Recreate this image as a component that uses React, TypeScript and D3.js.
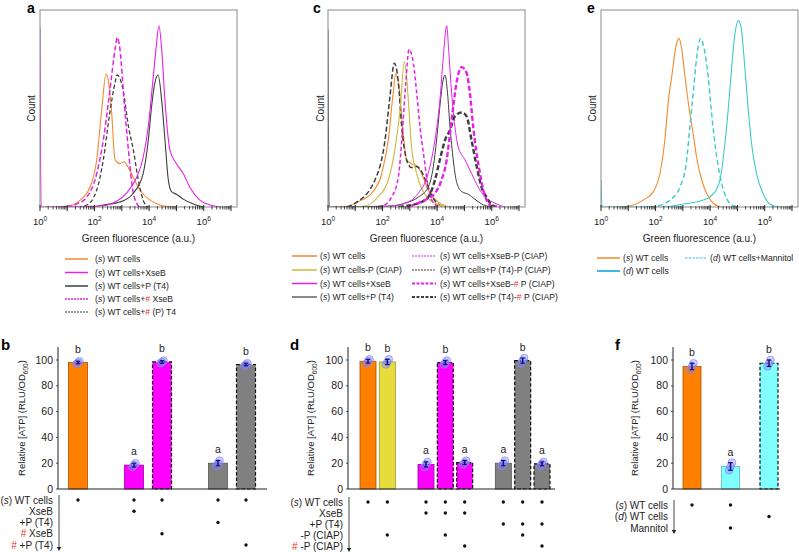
import React from "react";
import * as d3 from "d3";

const FONT = "Liberation Sans, Arial, Helvetica, sans-serif";
const RED = "#e8332a";

type Pt = [number, number];

// ---------- Histogram data: [log10 green fluorescence, count (% of frame)] ----------
const aWT: Pt[] = [[0.6,0],[1.2,1],[1.47,3.5],[1.83,10],[2.08,24],[2.26,49],[2.42,67.5],[2.5,64.5],[2.62,49],[2.75,24],[2.93,22],[3.08,23],[3.24,20],[3.42,15],[3.66,8.6],[4.03,3.5],[4.4,1],[4.8,0]];
const aXseB: Pt[] = [[0,91],[0.04,0],[2.2,0.5],[2.68,2],[3.17,7],[3.54,15],[3.78,25],[3.97,41],[4.13,63],[4.25,80],[4.36,92],[4.46,80],[4.58,54],[4.76,29],[5.0,22],[5.25,17],[5.49,10],[5.86,3.5],[6.23,1],[6.6,0]];
const aT4: Pt[] = [[2.0,0],[2.32,1],[2.93,2.5],[3.42,7],[3.78,17],[3.97,34],[4.09,51],[4.21,63],[4.33,67],[4.46,54],[4.58,34],[4.7,14],[4.82,7.8],[5.0,6.5],[5.25,4],[5.62,1.5],[6.0,0]];
const aHashXseB: Pt[] = [[1.0,0],[1.34,1.5],[1.71,5],[2.08,17],[2.32,34],[2.56,59],[2.75,80],[2.83,86],[2.93,80],[3.08,54],[3.24,29],[3.42,7],[3.54,2],[3.66,0]];
const aHashT4: Pt[] = [[1.4,0],[1.71,1],[2.08,8.6],[2.32,24],[2.56,48],[2.75,63],[2.83,67],[3.05,59],[3.24,41],[3.42,29],[3.6,14],[3.78,3.5],[3.96,0]];

const cWT: Pt[] = [[0.5,0],[0.74,0.5],[1.23,3.5],[1.6,7],[1.97,17],[2.21,34],[2.39,58],[2.48,67.5],[2.6,61],[2.76,37],[2.88,24],[3.06,22],[3.25,21],[3.43,17],[3.67,8.6],[4.04,2.5],[4.5,0]];
const cCIAP: Pt[] = [[1.0,0],[1.36,0.5],[1.84,5.2],[2.21,13.7],[2.45,29],[2.64,49],[2.8,74],[2.88,66],[2.97,49],[3.06,30.6],[3.25,17],[3.43,9.5],[3.67,4.4],[4.04,1.2],[4.4,0]];
const cXseB: Pt[] = [[2.0,0],[2.33,0.5],[2.82,1.9],[3.31,7],[3.67,17],[3.92,34],[4.1,54],[4.22,75],[4.35,92],[4.43,78],[4.53,58],[4.65,41],[4.77,30.6],[5.02,24],[5.26,17],[5.51,10],[5.75,5.2],[6.12,1.9],[6.48,0]];
const cT4: Pt[] = [[0,90],[0.04,0],[2.33,0.5],[2.82,1.9],[3.31,5],[3.67,10],[3.86,20.5],[3.98,34],[4.1,51],[4.22,64.5],[4.29,67],[4.38,58],[4.47,41],[4.59,24],[4.71,12.9],[4.9,7.8],[5.14,6.5],[5.38,4],[5.63,1.5],[6.0,0]];
const cXseBCIAP: Pt[] = [[1.6,0],[1.97,0.5],[2.33,5],[2.58,15.4],[2.72,37],[2.85,63],[2.97,80],[3.13,73],[3.25,58],[3.37,41],[3.53,24],[3.67,10],[3.86,2.2],[4.1,0]];
const cT4CIAP: Pt[] = [[0.7,0],[0.99,1.9],[1.72,13.7],[2.09,34],[2.27,56],[2.43,73],[2.58,63],[2.7,41],[2.88,24],[3.06,20],[3.25,20.5],[3.43,18],[3.62,12],[3.86,4.4],[4.16,0.5],[4.4,0]];
const cXseBHash: Pt[] = [[3.0,0],[3.06,0.5],[3.55,3.5],[3.92,7],[4.16,13.7],[4.35,24],[4.47,37],[4.59,51],[4.71,63],[4.9,71],[5.08,68],[5.2,58],[5.32,41],[5.45,27],[5.57,17],[5.69,8.6],[5.81,3.5],[6.0,0.5],[6.2,0]];
const cT4Hash: Pt[] = [[2.6,0],[2.82,0.5],[3.31,1.9],[3.67,5],[3.92,13.7],[4.1,24],[4.29,34],[4.47,39],[4.65,46],[4.9,48],[5.08,46],[5.26,34],[5.45,20.5],[5.63,10],[5.81,5],[6.0,1],[6.2,0]];

const eWT: Pt[] = [[0.8,0],[1.06,0.5],[1.55,3.5],[1.92,7.8],[2.16,17],[2.34,34],[2.47,54],[2.59,66],[2.77,83],[2.86,85.6],[2.96,80],[3.08,66],[3.24,49],[3.38,37],[3.5,25.5],[3.69,13.7],[3.87,7],[4.11,1.9],[4.4,0]];
const eD: Pt[] = [[0,13.7],[0.04,0],[2.28,0],[3.02,1.5],[3.75,3.5],[4.11,6.5],[4.36,13.7],[4.54,32],[4.66,49],[4.79,71],[4.91,88],[5.03,94.6],[5.13,91.5],[5.27,71],[5.4,49],[5.52,32],[5.7,17],[5.95,6.5],[6.19,1.5],[6.5,0]];
const eMannitol: Pt[] = [[1.8,0],[2.04,0.5],[2.53,3.5],[2.89,10],[3.14,24],[3.26,41],[3.38,58],[3.5,75],[3.65,85.6],[3.77,81],[3.93,66],[4.05,48],[4.24,25.5],[4.42,12],[4.6,4.4],[4.79,1.2],[5.0,0]];

const X_MAX_EXP = 7.22;
const xTickExps = [0, 2, 4, 6];

// ---------- Legends ----------
const aLegend = ["(s) WT cells", "(s) WT cells+XseB", "(s) WT cells+P (T4)", "(s) WT cells+# XseB", "(s) WT cells+# (P) T4"];
const cLegendLeft = ["(s) WT cells", "(s) WT cells-P (CIAP)", "(s) WT cells+XseB", "(s) WT cells+P (T4)"];
const cLegendRight = ["(s) WT cells+XseB-P (CIAP)", "(s) WT cells+P (T4)-P (CIAP)", "(s) WT cells+XseB-# P (CIAP)", "(s) WT cells+P (T4)-# P (CIAP)"];
const eLegend = ["(s) WT cells", "(d) WT cells", "(d) WT cells+Mannitol"];

// ---------- Bar data (replicates, Relative [ATP]) ----------
const bSlots = [0, 2, 3, 5, 6];
const bReps = [[97, 98, 99], [17, 18.5, 20], [97.5, 98.5, 99.5], [18, 20, 22], [95.5, 96.5, 97.5]];
const bLetters = ["b", "a", "b", "a", "b"];
const bMarks = [[0], [0, 1], [0, 3], [0, 2], [0, 4]];
const bRows = ["(s) WT cells", "XseB", "+P (T4)", "# XseB", "# +P (T4)"];

const dSlots = [0, 1, 3, 4, 5, 7, 8, 9];
const dReps = [[97.5, 99, 100.5], [96.5, 98.5, 100.5], [17, 19, 21], [96.5, 98, 99.5], [19, 20.5, 22], [18, 20, 22], [97.5, 99.5, 101.5], [18, 19.5, 21]];
const dLetters = ["b", "b", "a", "b", "a", "a", "b", "a"];
const dMarks = [[0], [0, 3], [0, 1], [0, 1, 3], [0, 1, 4], [0, 2], [0, 2, 3], [0, 2, 4]];
const dRows = ["(s) WT cells", "XseB", "+P (T4)", "-P (CIAP)", "# -P (CIAP)"];

const fSlots = [0, 1, 2];
const fReps = [[92.5, 95, 97.5], [14.5, 17.5, 20.5], [95, 97.5, 100]];
const fLetters = ["b", "a", "b"];
const fMarks = [[0], [0, 2], [1]];
const fRows = ["(s) WT cells", "(d) WT cells", "Mannitol"];

const yTicks = [0, 20, 40, 60, 80, 100];

// ---------- colours ----------
const C_ORANGE = "#f28a2e";
const C_MAG = "#e620e6";
const C_DARK = "#3d3d3d";
const C_YEL = "#c8b93a";
const C_CYAN = "#3ccaca";
const C_CYAN_LEG = "#3fb8e2";

const B_ORANGE = { fill: "#ff7f00", stroke: "#a85400", dashed: false };
const B_YEL = { fill: "#e6dc3c", stroke: "#9e9628", dashed: false };
const B_MAG = { fill: "#ff00ff", stroke: "#a000a0", dashed: false };
const B_MAG_D = { fill: "#ff00ff", stroke: "#111", dashed: true };
const B_GRAY = { fill: "#808080", stroke: "#555", dashed: false };
const B_GRAY_D = { fill: "#808080", stroke: "#111", dashed: true };
const B_CYAN = { fill: "#80ffff", stroke: "#55bbbb", dashed: false };
const B_CYAN_D = { fill: "#80ffff", stroke: "#111", dashed: true };

const bStyles = [B_ORANGE, B_MAG, B_MAG_D, B_GRAY, B_GRAY_D];
const dStyles = [B_ORANGE, B_YEL, B_MAG, B_MAG_D, B_MAG_D, B_GRAY, B_GRAY_D, B_GRAY_D];
const fStyles = [B_ORANGE, B_CYAN, B_CYAN_D];

function Rich({ text }: { text: string }) {
  const parts = text.split(/(\(s\)|\(d\)|#)/).filter((p) => p !== "");
  return (
    <>
      {parts.map((p, i) => {
        if (p === "(s)" || p === "(d)")
          return (
            <React.Fragment key={i}>
              <tspan>(</tspan>
              <tspan fontStyle="italic">{p[1]}</tspan>
              <tspan>)</tspan>
            </React.Fragment>
          );
        if (p === "#") return <tspan key={i} fill={RED}>#</tspan>;
        return <tspan key={i}>{p}</tspan>;
      })}
    </>
  );
}

type Curve = { data: Pt[]; color: string; width: number; dash?: string };

function Histogram({ left, top, size, curves, id, countX }: { left: number; top: number; size: number; curves: Curve[]; id: string; countX: number }) {
  const x = d3.scaleLinear().domain([0, X_MAX_EXP]).range([left, left + size]);
  const y = d3.scaleLinear().domain([0, 100]).range([top + size, top]);
  const line = d3.line<Pt>().x((d) => x(d[0])).y((d) => y(d[1])).curve(d3.curveMonotoneX);
  const minor: number[] = [];
  for (let e = 0; e < 8; e++)
    for (let k = 2; k < 10; k++) {
      const v = e + Math.log10(k);
      if (v < X_MAX_EXP) minor.push(v);
    }
  const major = d3.range(0, 8).filter((v) => v <= X_MAX_EXP);
  const bottom = top + size;
  return (
    <g>
      <clipPath id={id}>
        <rect x={left} y={top - 2} width={size} height={size + 2} />
      </clipPath>
      <g clipPath={`url(#${id})`}>
        {curves.map((c, i) => (
          <path key={i} d={line(c.data) || ""} fill="none" stroke={c.color} strokeWidth={c.width} strokeDasharray={c.dash} strokeLinejoin="round" />
        ))}
      </g>
      <rect x={left} y={top} width={size} height={size} fill="none" stroke="#8a8a8a" strokeWidth={1} />
      {minor.map((v, i) => (
        <line key={"m" + i} x1={x(v)} x2={x(v)} y1={bottom - 1} y2={bottom + 2.5} stroke="#222" strokeWidth={0.8} />
      ))}
      {major.map((v, i) => (
        <line key={"M" + i} x1={x(v)} x2={x(v)} y1={bottom - 2} y2={bottom + 4} stroke="#222" strokeWidth={1} />
      ))}
      {xTickExps.map((e) => (
        <text key={e} x={x(e)} y={bottom + 18} textAnchor="middle" fontSize={9.5} fill="#222">
          10<tspan dy={-4} fontSize={6.5}>{e}</tspan>
        </text>
      ))}
      <text x={left + size / 2} y={bottom + 35} textAnchor="middle" fontSize={10} fill="#222">
        Green fluorescence (a.u.)
      </text>
      <text transform={`translate(${countX},${top + size / 2}) rotate(-90)`} textAnchor="middle" dy="0.35em" fontSize={10} fill="#222">
        Count
      </text>
    </g>
  );
}

type LegendItem = { label: string; color: string; width: number; dash?: string };

function LegendCol({ x1, x2, tx, ys, items }: { x1: number; x2: number; tx: number; ys: number[]; items: LegendItem[] }) {
  return (
    <g>
      {items.map((it, i) => (
        <g key={i}>
          <line x1={x1} x2={x2} y1={ys[i]} y2={ys[i]} stroke={it.color} strokeWidth={it.width} strokeDasharray={it.dash} />
          <text x={tx} y={ys[i]} dy="0.35em" fontSize={8.6} fill="#222" style={{ whiteSpace: "pre" }}>
            <Rich text={it.label} />
          </text>
        </g>
      ))}
    </g>
  );
}

type BarStyle = { fill: string; stroke: string; dashed: boolean };

function BarPanel(props: {
  axisX: number; axisEnd: number; slots: number[]; nSlots: number; slotRange: [number, number]; barW: number;
  reps: number[][]; letters: string[]; styles: BarStyle[]; marks: number[][]; rows: string[]; rowRange: [number, number]; titleX: number;
}) {
  const { axisX, axisEnd, slots, nSlots, slotRange, barW, reps, letters, styles, marks, rows, rowRange, titleX } = props;
  const y = d3.scaleLinear().domain([0, 100]).range([489, 360]);
  const sx = d3.scaleLinear().domain([0, nSlots - 1]).range(slotRange);
  const ry = d3.scaleLinear().domain([0, rows.length - 1]).range(rowRange);
  const offs = [-1.5, 0, 1.5];
  return (
    <g>
      {reps.map((r, i) => {
        const m = d3.mean(r) as number;
        const sd = d3.deviation(r) as number;
        const cx = sx(slots[i]);
        const st = styles[i];
        return (
          <g key={i}>
            <rect x={cx - barW / 2} y={y(m)} width={barW} height={y(0) - y(m)} fill={st.fill} stroke={st.stroke} strokeWidth={st.dashed ? 1.2 : 0.8} strokeDasharray={st.dashed ? "3.5,2" : undefined} />
            {r.map((v, j) => (
              <circle key={j} cx={cx + offs[j]} cy={y(v)} r={3.8} fill="rgba(110,110,255,0.3)" stroke="#8a8aff" strokeWidth={0.8} />
            ))}
            <line x1={cx} x2={cx} y1={y(m - sd)} y2={y(m + sd)} stroke="#12126e" strokeWidth={1.4} />
            <line x1={cx - 2.2} x2={cx + 2.2} y1={y(m - sd)} y2={y(m - sd)} stroke="#12126e" strokeWidth={1.2} />
            <line x1={cx - 2.2} x2={cx + 2.2} y1={y(m + sd)} y2={y(m + sd)} stroke="#12126e" strokeWidth={1.2} />
            <text x={cx} y={y(m) - 10} textAnchor="middle" fontSize={10.5} fill="#222">{letters[i]}</text>
            {marks[i].map((rw) => (
              <circle key={"k" + rw} cx={cx} cy={ry(rw)} r={1.7} fill="#111" />
            ))}
          </g>
        );
      })}
      <line x1={axisX} x2={axisX} y1={y(0)} y2={y(110)} stroke="#222" strokeWidth={1} />
      <line x1={axisX} x2={axisEnd} y1={y(0)} y2={y(0)} stroke="#222" strokeWidth={1} />
      {yTicks.map((t) => (
        <g key={t}>
          <line x1={axisX - 2} x2={axisX} y1={y(t)} y2={y(t)} stroke="#222" strokeWidth={0.8} />
          <text x={axisX - 5} y={y(t)} dy="0.35em" textAnchor="end" fontSize={10.5} fill="#222">{t}</text>
        </g>
      ))}
      <text transform={`translate(${titleX},418) rotate(-90)`} textAnchor="middle" fontSize={9.5} fill="#222">
        Relative [ATP] (RLU/OD<tspan dy={2.5} fontSize={6.5}>600</tspan><tspan dy={-2.5}>)</tspan>
      </text>
      {rows.map((r, i) => (
        <text key={i} x={axisX - 5} y={ry(i)} dy="0.35em" textAnchor="end" fontSize={10} fill="#222" style={{ whiteSpace: "pre" }}>
          <Rich text={r} />
        </text>
      ))}
      <line x1={axisX + 1} x2={axisX + 1} y1={rowRange[0] - 5} y2={rowRange[1] + 3} stroke="#444" strokeWidth={1} />
      <path d={`M${axisX - 1.2},${rowRange[1] + 2} L${axisX + 3.2},${rowRange[1] + 2} L${axisX + 1},${rowRange[1] + 6} Z`} fill="#222" />
    </g>
  );
}

export default function App() {
  const size = 197;
  const top = 10;
  return (
    <svg width={799} height={552} style={{ position: "absolute", left: 0, top: 0, fontFamily: FONT, background: "#fff" }}>
      <rect width={799} height={552} fill="#fff" />
      {/* panel letters */}
      <text x={27} y={13} fontSize={14} fontWeight="bold">a</text>
      <text x={313} y={13} fontSize={14} fontWeight="bold">c</text>
      <text x={587} y={13} fontSize={14} fontWeight="bold">e</text>
      <text x={1} y={350} fontSize={15} fontWeight="bold">b</text>
      <text x={290} y={350} fontSize={15} fontWeight="bold">d</text>
      <text x={615} y={350} fontSize={15} fontWeight="bold">f</text>

      <Histogram
        id="clipA" left={40} top={top} size={size} countX={31}
        curves={[
          { data: aWT, color: C_ORANGE, width: 1.1 },
          { data: aHashT4, color: C_DARK, width: 1.3, dash: "4,2.5" },
          { data: aHashXseB, color: C_MAG, width: 1.5, dash: "5,2.5" },
          { data: aT4, color: C_DARK, width: 1.1 },
          { data: aXseB, color: C_MAG, width: 1.1 },
        ]}
      />
      <Histogram
        id="clipC" left={328} top={top} size={size} countX={320}
        curves={[
          { data: cWT, color: C_ORANGE, width: 1.1 },
          { data: cT4CIAP, color: C_DARK, width: 1.5, dash: "5,2.5" },
          { data: cCIAP, color: C_YEL, width: 1.1 },
          { data: cXseBCIAP, color: C_MAG, width: 1.5, dash: "4,2.5" },
          { data: cT4, color: C_DARK, width: 1.0 },
          { data: cXseB, color: C_MAG, width: 1.0 },
          { data: cT4Hash, color: C_DARK, width: 2.4, dash: "5,2.5" },
          { data: cXseBHash, color: C_MAG, width: 2.4, dash: "5,2.5" },
        ]}
      />
      <Histogram
        id="clipE" left={601} top={top} size={size} countX={592}
        curves={[
          { data: eWT, color: C_ORANGE, width: 1.1 },
          { data: eMannitol, color: C_CYAN, width: 1.4, dash: "5,3" },
          { data: eD, color: C_CYAN, width: 1.1 },
        ]}
      />

      <LegendCol
        x1={65} x2={88} tx={95} ys={[259, 272.5, 286, 299, 312]}
        items={[
          { label: aLegend[0], color: C_ORANGE, width: 1.5 },
          { label: aLegend[1], color: C_MAG, width: 1.5 },
          { label: aLegend[2], color: C_DARK, width: 1.5 },
          { label: aLegend[3], color: C_MAG, width: 1.5, dash: "2,1" },
          { label: aLegend[4], color: C_DARK, width: 1, dash: "2,1" },
        ]}
      />
      <LegendCol
        x1={292} x2={317} tx={320} ys={[256, 270, 283.5, 297]}
        items={[
          { label: cLegendLeft[0], color: C_ORANGE, width: 1.5 },
          { label: cLegendLeft[1], color: C_YEL, width: 1.5 },
          { label: cLegendLeft[2], color: C_MAG, width: 1.5 },
          { label: cLegendLeft[3], color: C_DARK, width: 1.2 },
        ]}
      />
      <LegendCol
        x1={412} x2={436} tx={440} ys={[256, 270, 283.5, 297]}
        items={[
          { label: cLegendRight[0], color: C_MAG, width: 1, dash: "2,1" },
          { label: cLegendRight[1], color: C_DARK, width: 1, dash: "2,1" },
          { label: cLegendRight[2], color: C_MAG, width: 2.2, dash: "3,1.5" },
          { label: cLegendRight[3], color: C_DARK, width: 2.2, dash: "3,1.5" },
        ]}
      />
      <LegendCol
        x1={597} x2={620} tx={623} ys={[258, 271]}
        items={[
          { label: eLegend[0], color: C_ORANGE, width: 1.5 },
          { label: eLegend[1], color: C_CYAN_LEG, width: 2 },
        ]}
      />
      <LegendCol
        x1={685} x2={706} tx={710} ys={[258]}
        items={[{ label: eLegend[2], color: C_CYAN_LEG, width: 1.2, dash: "2.5,1.2" }]}
      />

      <BarPanel
        axisX={58} axisEnd={267} slots={bSlots} nSlots={7} slotRange={[78, 246]} barW={19}
        reps={bReps} letters={bLetters} styles={bStyles} marks={bMarks} rows={bRows} rowRange={[500, 545]} titleX={25}
      />
      <BarPanel
        axisX={348} axisEnd={555} slots={dSlots} nSlots={10} slotRange={[368, 542]} barW={16}
        reps={dReps} letters={dLetters} styles={dStyles} marks={dMarks} rows={dRows} rowRange={[502, 546]} titleX={314}
      />
      <BarPanel
        axisX={673} axisEnd={780} slots={fSlots} nSlots={3} slotRange={[692, 769]} barW={18}
        reps={fReps} letters={fLetters} styles={fStyles} marks={fMarks} rows={fRows} rowRange={[505, 528]} titleX={638}
      />
    </svg>
  );
}
